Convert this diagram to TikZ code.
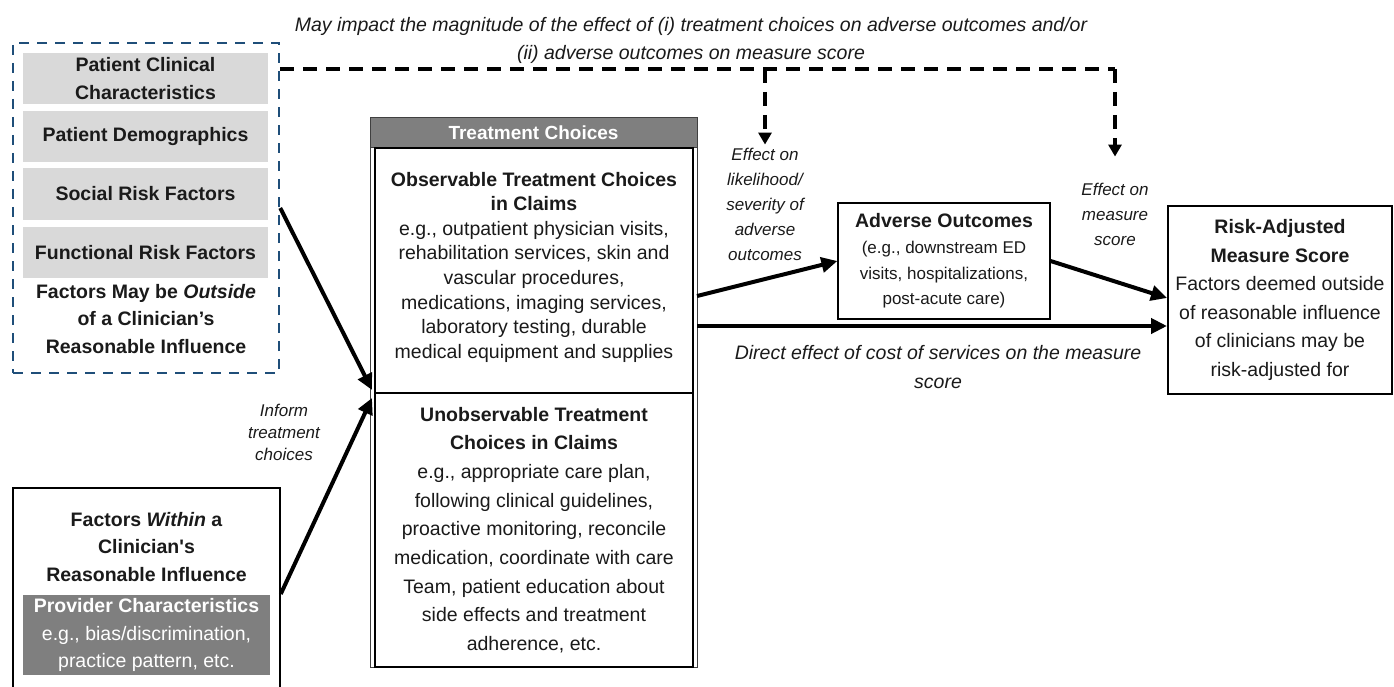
\documentclass[tikz,border=0pt]{standalone}
\usepackage{fontspec}
\setmainfont{Liberation Sans}
\usetikzlibrary{arrows.meta,calc}
\definecolor{lgray}{HTML}{D9D9D9}
\definecolor{dgray}{HTML}{7F7F7F}
\definecolor{dblue}{HTML}{1F4E79}
\definecolor{ink}{HTML}{1A1A1A}
\begin{document}
\begin{tikzpicture}[x=1pt,y=-1pt,
  box/.style={draw=black, line width=1.5pt, fill=white, inner sep=0pt, align=center, text=ink},
  graybox/.style={fill=lgray, inner sep=0pt, minimum width=245pt, minimum height=51pt, align=center, text=ink,
    font=\bfseries\fontsize{19.5}{28}\selectfont},
  lab/.style={font=\itshape\fontsize{17}{25}\selectfont, align=center, text=ink, inner sep=0pt},
  arr/.style={line width=4pt, -{Triangle[length=16pt,width=15pt]}},
  dashln/.style={line width=3.5pt, dash pattern=on 14pt off 9pt},
  dasharr/.style={line width=3.5pt, dash pattern=on 14pt off 9pt, -{Triangle[length=12pt,width=13pt]}},
]
\useasboundingbox (0,0) rectangle (1394,687);

% title
\node[lab, font=\itshape\fontsize{19.5}{28}\selectfont] (title) at (691,40)
  {May impact the magnitude of the effect of (i) treatment choices on adverse outcomes and/or\\(ii) adverse outcomes on measure score};

% outside factors
\node[draw=dblue, line width=2.5pt, dash pattern=on 10pt off 8pt, minimum width=266pt, minimum height=330pt, inner sep=0pt] (outside) at (146,208) {};
\node[graybox] (clin) at (145.5,79) {Patient Clinical\\Characteristics};
\node[graybox] (demo) at (145.5,137) {Patient Demographics};
\node[graybox] (soc) at (145.5,194) {Social Risk Factors};
\node[graybox] (func) at (145.5,252.5) {Functional Risk Factors};
\node[align=center, inner sep=0pt, text=ink, font=\bfseries\fontsize{19.5}{27.5}\selectfont] (outcap) at (146,319)
  {Factors May be \textit{Outside}\\of a Clinician’s\\Reasonable Influence};

% within factors
\node[box, minimum width=267pt, minimum height=212pt] (within) at (146.5,594) {};
\node[align=center, inner sep=0pt, text=ink, font=\bfseries\fontsize{19.5}{27.5}\selectfont] (wincap) at (146.5,547)
  {Factors \textit{Within} a\\Clinician\textquotesingle s\\Reasonable Influence};
\node[fill=dgray, minimum width=247pt, minimum height=80pt, inner sep=0pt, align=center, text=white,
  font=\fontsize{19.5}{27.5}\selectfont] (prov) at (146.5,635)
  {\textbf{Provider Characteristics}\\e.g., bias/discrimination,\\practice pattern, etc.};

% treatment choices
\node[draw=black!75, line width=1pt, minimum width=327pt, minimum height=549pt, inner sep=0pt] (treat) at (533.5,392.5) {};
\node[draw=black!75, line width=1pt, fill=dgray, minimum width=327pt, minimum height=30pt, inner sep=0pt, text=white,
  font=\bfseries\fontsize{19}{22}\selectfont] (thead) at (533.5,133) {Treatment Choices};
\node[box, minimum width=318pt, minimum height=245pt, font=\fontsize{19.5}{24.6}\selectfont] (obs) at (534,270.5)
  {\textbf{Observable Treatment Choices}\\\textbf{in Claims}\\e.g., outpatient physician visits,\\rehabilitation services, skin and\\vascular procedures,\\medications, imaging services,\\laboratory testing, durable\\medical equipment and supplies\\[-14pt]};
\node[box, minimum width=318pt, minimum height=274pt, font=\fontsize{19.5}{28.7}\selectfont] (unobs) at (534,530)
  {\textbf{Unobservable Treatment}\\\textbf{Choices in Claims}\\e.g., appropriate care plan,\\following clinical guidelines,\\proactive monitoring, reconcile\\medication, coordinate with care\\Team, patient education about\\side effects and treatment\\adherence, etc.};

% adverse outcomes
\node[box, line width=1.2pt, minimum width=212pt, minimum height=116pt, font=\fontsize{17}{25.7}\selectfont] (adv) at (944,261)
  {{\bfseries\fontsize{19.5}{25.7}\selectfont Adverse Outcomes}\\(e.g., downstream ED\\visits, hospitalizations,\\post-acute care)};

% risk-adjusted score
\node[box, line width=2pt, minimum width=224pt, minimum height=187pt, font=\fontsize{19.5}{28.6}\selectfont] (risk) at (1280,300)
  {\textbf{Risk-Adjusted}\\\textbf{Measure Score}\\Factors deemed outside\\of reasonable influence\\of clinicians may be\\risk-adjusted for};

% labels
\node[lab] (leff1) at (765,204) {Effect on\\likelihood/\\severity of\\adverse\\outcomes};
\node[lab] (leff2) at (1115,214) {Effect on\\measure\\score};
\node[lab, font=\itshape\fontsize{17}{22}\selectfont] (linf) at (284,432) {Inform\\treatment\\choices};
\node[lab, font=\itshape\fontsize{19.5}{28.5}\selectfont] (ldir) at (938,367) {Direct effect of cost of services on the measure\\score};

% coordinates
\coordinate (dj) at (1115,69);
\coordinate (dm) at (765,69);
\coordinate (o1) at (697,296);
\coordinate (o2) at (697,326);
\coordinate (t1) at (372,390);
\coordinate (t2) at (372,398);

% dashed moderation connector
\draw[dashln] (outside.east |- dj) -- (dj);
\draw[dasharr] (dm) -- ($(leff1.north)+(0,-3)$);
\draw[dasharr] (dj) -- ($(leff2.north)+(0,-26)$);

% solid arrows
\draw[arr] (outside.east) -- (t1);
\draw[arr] (within.east) -- (t2);
\draw[arr] (o1) -- (adv.west);
\draw[arr] (o2) -- (risk.west |- o2);
\draw[arr] (adv.east) -- ($(risk.west)+(0,-2)$);
\end{tikzpicture}
\end{document}
